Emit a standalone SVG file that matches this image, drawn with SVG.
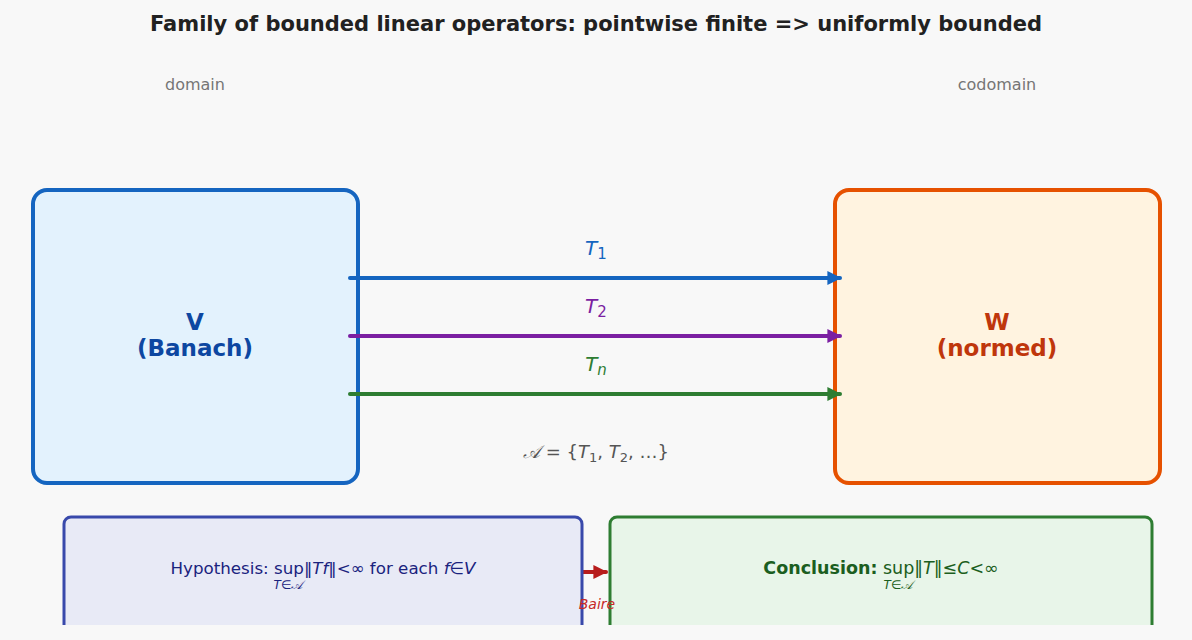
<svg xmlns="http://www.w3.org/2000/svg" width="1192" height="640" viewBox="0 0 1192 640">
<style>
text{font-family:"DejaVu Sans","Liberation Sans",sans-serif}
.title{font-size:21px;font-weight:bold;fill:#212121}
.cap{font-size:16px;fill:#757575}
.big{font-size:23px;font-weight:bold}
.lbl{font-size:20px}
.it{font-style:italic}
.sub{font-size:15px}
</style>
<defs>
<marker id="mb" viewBox="0 0 10 10" refX="9" refY="5" markerWidth="3.5" markerHeight="3.5" orient="auto"><path d="M0,0L10,5L0,10z" fill="#1565c0"/></marker>
<marker id="mp" viewBox="0 0 10 10" refX="9" refY="5" markerWidth="3.5" markerHeight="3.5" orient="auto"><path d="M0,0L10,5L0,10z" fill="#7b1fa2"/></marker>
<marker id="mg" viewBox="0 0 10 10" refX="9" refY="5" markerWidth="3.5" markerHeight="3.5" orient="auto"><path d="M0,0L10,5L0,10z" fill="#2e7d32"/></marker>
<marker id="mr" viewBox="0 0 10 10" refX="9" refY="5" markerWidth="3.5" markerHeight="3.5" orient="auto"><path d="M0,0L10,5L0,10z" fill="#b71c1c"/></marker>
<clipPath id="clip"><rect x="0" y="0" width="1192" height="625"/></clipPath>
</defs>
<rect width="1192" height="640" fill="#f8f8f8"/>
<text class="title" x="596" y="31" text-anchor="middle">Family of bounded linear operators: pointwise finite =&gt; uniformly bounded</text>
<text class="cap" x="195" y="90" text-anchor="middle">domain</text>
<text class="cap" x="997" y="90" text-anchor="middle">codomain</text>
<g id="V">
<rect x="33" y="190" width="325" height="293" rx="14" fill="#e3f2fd" stroke="#1565c0" stroke-width="4"/>
<text class="big" x="195" y="330" text-anchor="middle" fill="#0d47a1">V</text>
<text class="big" x="195" y="356" text-anchor="middle" fill="#0d47a1">(Banach)</text>
</g>
<g id="W">
<rect x="835" y="190" width="325" height="293" rx="14" fill="#fff3e0" stroke="#e65100" stroke-width="4"/>
<text class="big" x="997" y="330" text-anchor="middle" fill="#bf360c">W</text>
<text class="big" x="997" y="356" text-anchor="middle" fill="#bf360c">(normed)</text>
</g>
<g id="connectors" stroke-width="4" stroke-linecap="round" fill="none">
<line x1="350" y1="278" x2="840" y2="278" stroke="#1565c0" marker-end="url(#mb)"/>
<line x1="350" y1="336" x2="840" y2="336" stroke="#7b1fa2" marker-end="url(#mp)"/>
<line x1="350" y1="394" x2="840" y2="394" stroke="#2e7d32" marker-end="url(#mg)"/>
<line x1="583" y1="572" x2="606" y2="572" stroke="#b71c1c" marker-end="url(#mr)"/>
</g>
<text class="lbl" x="596" y="255" text-anchor="middle" fill="#1565c0"><tspan class="it">T</tspan><tspan class="sub" dy="4">1</tspan></text>
<text class="lbl" x="596" y="313" text-anchor="middle" fill="#7b1fa2"><tspan class="it">T</tspan><tspan class="sub" dy="4">2</tspan></text>
<text class="lbl" x="596" y="371" text-anchor="middle" fill="#2e7d32"><tspan class="it">T</tspan><tspan class="sub it" dy="4">n</tspan></text>
<text x="596" y="458" text-anchor="middle" font-size="18" fill="#555"><tspan class="it">𝒜</tspan> = {<tspan class="it">T</tspan><tspan font-size="13" dy="4">1</tspan><tspan dy="-4">, </tspan><tspan class="it">T</tspan><tspan font-size="13" dy="4">2</tspan><tspan dy="-4">, …}</tspan></text>
<g clip-path="url(#clip)">
<g id="hyp">
<rect x="64" y="517" width="518" height="120" rx="7" fill="#e8eaf6" stroke="#3949ab" stroke-width="3"/>
<text x="323" y="574" text-anchor="middle" font-size="16.7" fill="#1a237e">Hypothesis: sup‖<tspan class="it">Tf</tspan>‖&lt;∞ for each <tspan class="it">f</tspan>∈<tspan class="it">V</tspan></text>
<text x="288" y="589" text-anchor="middle" font-size="12" fill="#1a237e" class="it">T∈𝒜</text>
</g>
<g id="concl">
<rect x="610" y="517" width="542" height="120" rx="7" fill="#e8f5e9" stroke="#2e7d32" stroke-width="3"/>
<text x="881" y="574" text-anchor="middle" font-size="17.5" fill="#1b5e20"><tspan font-weight="bold">Conclusion:</tspan> sup‖<tspan class="it">T</tspan>‖≤<tspan class="it">C</tspan>&lt;∞</text>
<text x="898" y="589" text-anchor="middle" font-size="12" fill="#1b5e20" class="it">T∈𝒜</text>
</g>
</g>
<text x="597" y="609" text-anchor="middle" font-size="14" fill="#c62828" class="it">Baire</text>
</svg>
